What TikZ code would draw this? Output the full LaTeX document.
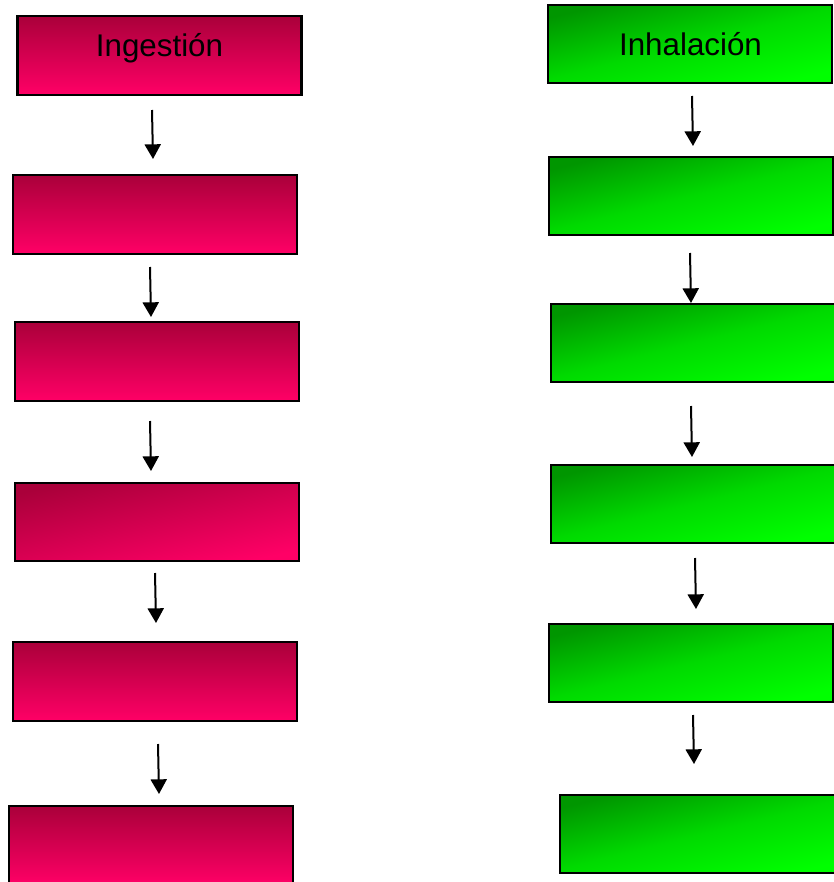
\documentclass[tikz,border=0pt]{standalone}
\usepackage{fontspec}
\setmainfont{Liberation Sans}
\usetikzlibrary{arrows.meta}
\definecolor{pinkdark}{RGB}{170,0,58}
\definecolor{pinklight}{RGB}{255,0,102}
\definecolor{greendark}{RGB}{0,150,0}
\definecolor{greenmid}{RGB}{0,218,0}
\definecolor{greenlight}{RGB}{0,255,0}
\tikzset{
  box/.style={draw=black, line width=1.7pt, inner sep=0pt, rectangle,
    minimum width=213pt, minimum height=59pt},
  pinkbox/.style={box, top color=pinkdark, bottom color=pinklight},
  pinkdiag/.style={box, top color=pinkdark, bottom color=pinklight, shading angle=12},
  greenbox/.style={box, top color=greendark, bottom color=greenlight, middle color=greenmid, shading angle=14},
  lbl/.style={anchor=base, inner sep=0pt, font=\fontsize{23.5}{27}\selectfont},
  arr/.style={line width=1.5pt, -{Triangle[width=12pt,length=11pt]}}
}
\begin{document}
\begin{tikzpicture}[x=0.75pt,y=-0.75pt]
\useasboundingbox (0,0) rectangle (833,882);
% left column
\node[pinkbox] (l1) at (159.5,55.5) {};
\node[pinkbox] (l2) at (155,214.5) {};
\node[pinkbox] (l3) at (157,361.5) {};
\node[pinkdiag] (l4) at (157,522) {};
\node[pinkbox] (l5) at (155,681.5) {};
\node[pinkbox] (l6) at (151,845.5) {};
\node[lbl] (t1) at (159.5,56) {Ingestión};
% right column
\node[greenbox] (r1) at (690,44) {};
\node[greenbox] (r2) at (691,196) {};
\node[greenbox] (r3) at (693,343) {};
\node[greenbox] (r4) at (693,504) {};
\node[greenbox] (r5) at (691,663) {};
\node[greenbox] (r6) at (702,834) {};
\node[lbl] (t2) at (690.5,55) {Inhalación};
% arrow end points (left)
\coordinate (la1) at (152,110); \coordinate (lb1) at (153,159);
\coordinate (la2) at (150,267); \coordinate (lb2) at (151,317);
\coordinate (la3) at (150,421); \coordinate (lb3) at (151,471);
\coordinate (la4) at (155,573); \coordinate (lb4) at (156,623);
\coordinate (la5) at (158,744); \coordinate (lb5) at (159,794);
% arrow end points (right)
\coordinate (ra1) at (692,96);  \coordinate (rb1) at (693,146);
\coordinate (ra2) at (690,253); \coordinate (rb2) at (691,303);
\coordinate (ra3) at (691,406); \coordinate (rb3) at (692,457);
\coordinate (ra4) at (695,558); \coordinate (rb4) at (696,609);
\coordinate (ra5) at (693,715); \coordinate (rb5) at (694,764);
\foreach \i in {1,...,5}{
  \draw[arr] (la\i) -- (lb\i);
  \draw[arr] (ra\i) -- (rb\i);
}
\end{tikzpicture}
\end{document}
